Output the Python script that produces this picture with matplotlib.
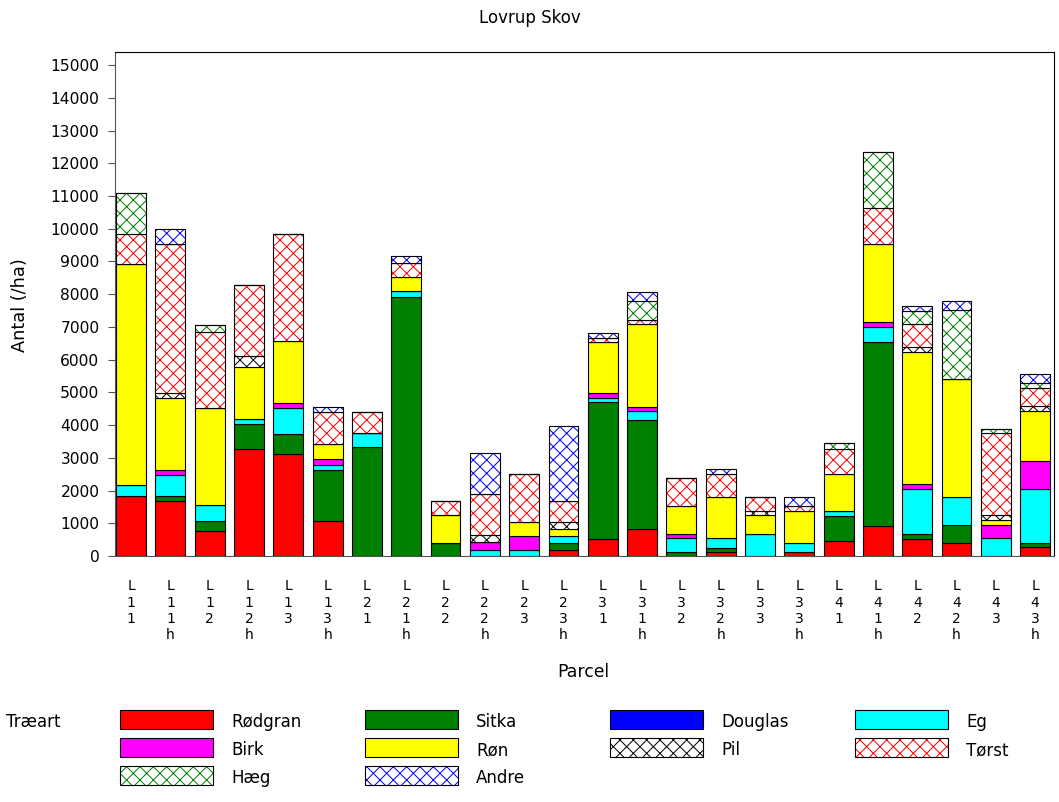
import matplotlib
matplotlib.use('Agg')
import matplotlib.pyplot as plt
from matplotlib.patches import Rectangle
import numpy as np

# Data (stems per ha)
#----------------------------------------
parcels = ['L11', 'L11h', 'L12', 'L12h', 'L13', 'L13h', 'L21', 'L21h',
           'L22', 'L22h', 'L23', 'L23h', 'L31', 'L31h', 'L32', 'L32h',
           'L33', 'L33h', 'L41', 'L41h', 'L42', 'L42h', 'L43', 'L43h']

rodgran = [1840, 1690, 760, 3260, 3110, 1070, 0, 0, 0, 0, 0, 190,
           530, 815, 0, 120, 0, 120, 460, 930, 530, 400, 0, 265]
sitka   = [0, 150, 320, 770, 620, 1570, 3320, 7900, 400, 0, 0, 205,
           4175, 3340, 120, 135, 0, 0, 775, 5610, 140, 550, 0, 135]
douglas = [0]*24
eg      = [330, 630, 480, 160, 785, 150, 430, 200, 0, 195, 195, 215,
           130, 265, 420, 285, 685, 275, 150, 460, 1385, 845, 540, 1660]
birk    = [0, 150, 0, 0, 160, 160, 0, 0, 0, 225, 415, 0,
           145, 145, 145, 0, 0, 0, 0, 160, 155, 0, 420, 845]
ron     = [6740, 2210, 2975, 1570, 1885, 480, 0, 440, 845, 0, 420, 225,
           1550, 2515, 845, 1255, 560, 990, 1120, 2365, 4030, 3625, 140, 1535]
pil     = [0, 160, 0, 340, 0, 0, 0, 0, 0, 215, 0, 215,
           0, 0, 0, 0, 140, 0, 0, 0, 145, 0, 145, 135]
torst   = [930, 4530, 2320, 2190, 3290, 960, 640, 420, 435, 1250, 1485, 620,
           140, 130, 845, 705, 420, 145, 775, 1100, 695, 0, 2505, 570]
haeg    = [1260, 0, 190, 0, 0, 0, 0, 0, 0, 0, 0, 0,
           0, 570, 0, 0, 0, 0, 160, 1730, 415, 2090, 140, 135]
andre   = [0, 480, 0, 0, 0, 150, 0, 210, 0, 1255, 0, 2300,
           135, 275, 0, 155, 0, 275, 0, 0, 155, 275, 0, 275]

# species: (name, values, fill colour, hatch colour)
species = [('Rødgran', rodgran, 'red', None),
           ('Sitka', sitka, 'green', None),
           ('Douglas', douglas, 'blue', None),
           ('Eg', eg, 'cyan', None),
           ('Birk', birk, 'magenta', None),
           ('Røn', ron, 'yellow', None),
           ('Pil', pil, None, 'black'),
           ('Tørst', torst, None, 'red'),
           ('Hæg', haeg, None, 'green'),
           ('Andre', andre, None, 'blue')]

# Plot
#-----
DPI = 80
plt.rcParams['font.family'] = 'DejaVu Sans'
plt.rcParams['hatch.linewidth'] = 0.9

fig = plt.figure(figsize=(1059/DPI, 802/DPI), dpi=DPI)
ax = fig.add_axes([115/1059, 1-556/802, 939/1059, 504/802])

x = np.arange(len(parcels))
bottom = np.zeros(len(parcels))
for name, vals, fc, hc in species:
    vals = np.array(vals, dtype=float)
    if fc is not None:
        ax.bar(x, vals, 0.76, bottom=bottom, color=fc, edgecolor='black', linewidth=1)
    else:
        ax.bar(x, vals, 0.76, bottom=bottom, facecolor='white', edgecolor=hc,
               hatch='xx', linewidth=0)
        ax.bar(x, vals, 0.76, bottom=bottom, fill=False, edgecolor='black', linewidth=1)
    bottom += vals

ax.set_xlim(-0.41, 23.48)
ax.set_ylim(0, 15400)
ax.set_yticks(np.arange(0, 15001, 1000))
ax.set_xticks(x)
ax.set_xticklabels(['\n'.join(p) for p in parcels], fontsize=12.5, linespacing=1.2, va='top')
ax.tick_params(axis='x', length=0, pad=21)
ax.tick_params(axis='y', length=6, width=1, pad=8, labelsize=14, color='#555555')
for s in ax.spines.values():
    s.set_linewidth(1)
ax.spines['left'].set_color('#555555')
ax.spines['bottom'].set_color('#555555')

fig.text(0.5, 1-18/802, 'Lovrup Skov', ha='center', va='center', fontsize=15)
fig.text(20/1059, 1-305/802, 'Antal (/ha)', ha='center', va='center', rotation=90, fontsize=16)
fig.text(583/1059, 1-672/802, 'Parcel', ha='center', va='center', fontsize=15.5)

# Legend, laid out row by row as in the original
#------------------------------------------------
lax = fig.add_axes([0, 0, 1, 1])
lax.set_xlim(0, 1059)
lax.set_ylim(802, 0)
lax.axis('off')
lax.text(6, 722, 'Træart', ha='left', va='center', fontsize=15)
for i, (name, vals, fc, hc) in enumerate(species):
    col, row = i % 4, i // 4
    x0 = 120 + col*245
    yc = 719 + row*28
    if fc is not None:
        lax.add_patch(Rectangle((x0, yc-9.5), 93, 19, facecolor=fc, edgecolor='black', linewidth=1))
    else:
        lax.add_patch(Rectangle((x0, yc-9.5), 93, 19, facecolor='white', edgecolor=hc,
                                hatch='xx', linewidth=0))
        lax.add_patch(Rectangle((x0, yc-9.5), 93, 19, fill=False, edgecolor='black', linewidth=1))
    lax.text(x0+111, yc+3, name, ha='left', va='center', fontsize=15)

fig.savefig('out.png', dpi=DPI)
